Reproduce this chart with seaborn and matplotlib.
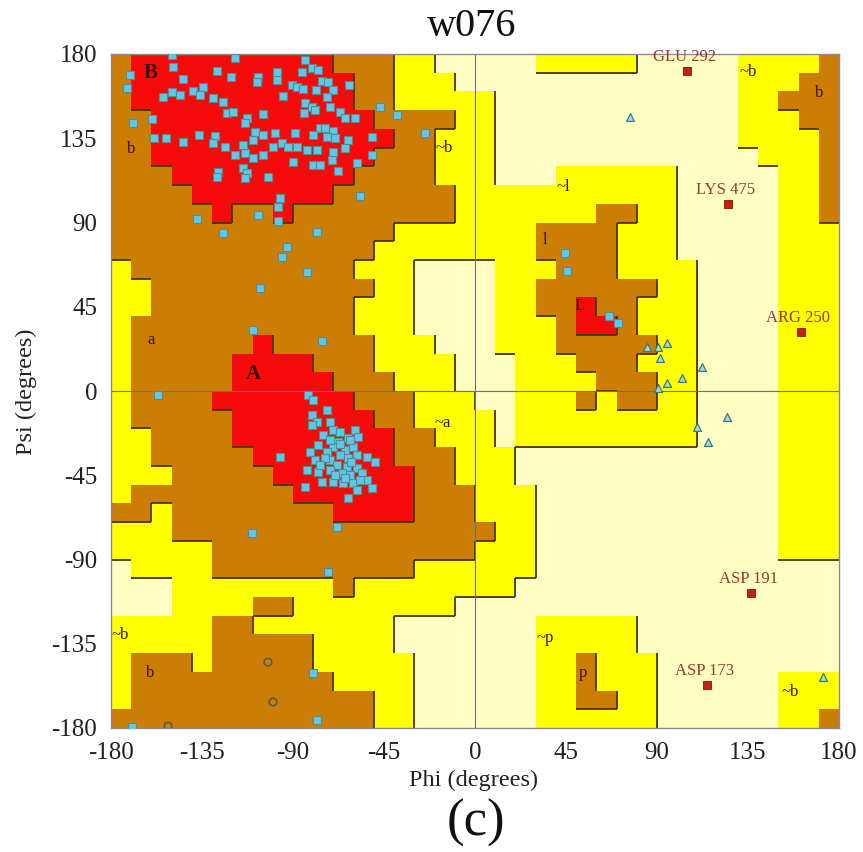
import numpy as np
import matplotlib
matplotlib.use("Agg")
from matplotlib import pyplot as plt
from matplotlib.colors import ListedColormap
from matplotlib.collections import LineCollection
import seaborn as sns

# region map in 10 degree cells, first row is psi 170..180, first column phi -180..-170
# '.' disallowed, 'y' generously allowed, 'b' additional allowed, 'r' most favoured
region_rows = [
    "brrrrrrrrrrbbbyy.....yyyyy.....yyyyb",
    "brrrrrrrrrrrbbyyy..............yyybb",
    "brrrrrrrrrrrbbyyyyy............yybbb",
    "bbrrrrrrrrrrrbbbbyy............yyybb",
    "bbrrrrrrrrrrrrbbyyy............yyyyb",
    "bbrrrrrrrrrrrbbbyyy.............yyyb",
    "bbbrrrrrrrrrbbbbyyy...yyyyyy.....yyb",
    "bbbbrrrrrrrbbbbbbyyyyyyyyyyy.....yyb",
    "bbbbbrbbrbbbbbbbbyyyyyyybbyy.....yyb",
    "bbbbbbbbbbbbbbyyyyyyybbbbyyy.....yyy",
    "bbbbbbbbbbbbbyyyyyyyybbbbyyy.....yyy",
    "ybbbbbbbbbbbyyy....yyybbbyyyy....yyy",
    "yybbbbbbbbbbbyy....yybbbbbbyy....yyy",
    "yybbbbbbbbbbyyy....yybbrbbyyy....yyy",
    "ybbbbbbbbbbbyyy....yyybrrbyyy....yyy",
    "ybbbbbbrbbbbbyyy...yyybbbbbyy....yyy",
    "ybbbbbrrrrbbbyyyy...yyybbbyyy....yyy",
    "ybbbbbrrrrrbbbyyy...yyyybbbyy....yyy",
    "ybbbbrrrrrrrbbbyyy..yyybybbyy....yyy",
    "ybbbbbrrrrrrrbbyyyy.yyyyyyyyy....yyy",
    "yybbbbrrrrrrrrbbyyy.yyyyyyyyy....yyy",
    "yybbbbbrrrrrrrbbbyyy.............yyy",
    "yyybbbbbrrrrrrrbbyyy.............yyy",
    "ybbbbbbbbrrrrrrbbbyyy............yyy",
    "bbybbbbbbbbrrrrbbbyyy............yyy",
    "yyybbbbbbbbbbbbbbbbyy............yyy",
    "yyyyybbbbbbbbbbbbbyyy............yyy",
    ".yyyybbbbbbbbbbyyyyyy...............",
    "...yyyyyyyybyyyyyyyy................",
    "...yyyybbyyyyyyyy...................",
    "yyyyybbyyyyyyy.......yyyyy..........",
    "yyyyybbbbbyyyy.......yyyyy..........",
    "ybbbybbbbbyyyyy......yybyyy.........",
    "ybbbbbbbbbbyyyy......yybyyy......yyy",
    "ybbbbbbbbbbbbyy......yybbyy......yyy",
    "bbbbbbbbbbbbbyy......yyyyyy......yyb",
]

# residues in favoured / allowed regions (squares)
core_phi = [-149.8, -149.3, -170.6, -144.4, -127.6, -120.7, -118.7, -107.3, -107.8, -97.9,
            -97.9, -154.3, -149.8, -145.9, -139.4, -134.5, -136.0, -129.6, -124.6, -94.9,
            -90.5, -172.1, -159.7, -169.1, -158.7, -152.8, -144.4, -136.5, -128.6, -129.6,
            -123.6, -118.7, -113.7, -109.8, -104.8, -99.9, -95.4, -122.6, -119.7, -112.7,
            -113.7, -104.8, -108.8, -104.8, -98.9, -109.8, -114.7, -127.1, -127.6, -114.7,
            -112.7, -113.7, -102.4, -96.4, -97.4, -97.4, -137.5, -124.6, -107.3, -93.0,
            -95.4, -106.3,
            -84.1, -85.5, -80.6, -77.6, -75.7, -72.7, -88.0, -85.1, -78.6, -70.2,
            -62.3, -73.2, -84.1, -80.6, -79.1, -84.6, -71.7, -66.8, -64.3, -59.3,
            -47.0, -38.6, -24.7, -76.6, -74.2, -70.2, -89.0, -80.1, -73.2, -69.2,
            -62.8, -50.9, -92.5, -88.0, -83.1, -78.1, -70.2, -64.3, -50.9, -80.1,
            -76.6, -90.0, -70.7, -67.7, -58.4, -56.9, -78.1, -83.1,
            -109.8, -156.8, -75.7, -96.4, -68.2, -110.3, -72.7,
            -82.6, -80.1, -73.2, -80.6, -78.1, -71.7, -70.2, -66.8, -75.2, -59.3,
            -62.8, -67.7, -77.6, -70.2, -64.3, -60.3, -57.9, -81.6, -73.2, -66.8,
            -62.8, -58.4, -53.4, -49.5, -79.1, -71.7, -68.2, -63.3, -58.4, -83.1,
            -77.6, -71.7, -65.8, -61.8, -55.9, -53.4, -75.7, -70.2, -65.3, -60.3,
            -84.1, -58.4, -50.9, -62.8, -80.6, -66.8, -74.2, -61.3, -64.3, -56.9,
            -69.2, -76.6, -61.8, -71.7,
            -80.1, -78.1, -169.6,
            44.5, 45.5, 66.3, 70.7]
core_psi = [179.5, 173.1, 168.8, 166.6, 170.9, 167.7, 177.9, 167.7, 165.0, 170.4,
            166.1, 157.0, 159.7, 158.1, 160.2, 162.4, 158.1, 156.5, 154.4, 157.6,
            163.4, 161.8, 145.3, 143.1, 135.1, 135.1, 133.0, 136.7, 136.2, 132.5,
            130.3, 126.1, 127.1, 124.5, 126.1, 130.3, 132.5, 148.5, 149.0, 145.8,
            143.1, 148.0, 138.3, 136.7, 137.8, 134.1, 131.4, 117.0, 114.3, 119.1,
            116.4, 113.8, 114.3, 103.1, 98.3, 90.8, 91.9, 84.4, 94.0, 76.9,
            71.6, 55.0,
            176.8, 170.4, 172.5, 171.5, 165.6, 165.0, 162.4, 161.3, 160.8, 160.8,
            163.4, 157.0, 153.8, 151.7, 150.1, 148.5, 151.7, 149.0, 145.8, 145.8,
            151.7, 147.4, 137.8, 140.5, 140.5, 138.9, 137.8, 136.7, 135.7, 135.1,
            134.1, 135.7, 130.3, 130.3, 128.7, 128.7, 127.7, 129.8, 126.1, 120.7,
            120.7, 122.3, 123.4, 117.5, 121.8, 104.2, 84.9, 63.6,
            32.6, -2.1, 26.7, -35.2, -72.6, -75.8, -96.7,
            -2.1, -4.8, -10.1, -12.8, -16.6, -16.6, -20.8, -21.9, -23.5, -20.8,
            -25.1, -27.2, -28.8, -29.9, -31.5, -29.9, -24.6, -32.6, -32.6, -34.2,
            -35.8, -34.2, -35.2, -37.9, -36.8, -36.8, -39.5, -40.6, -41.1, -42.2,
            -43.3, -42.2, -43.8, -44.9, -43.8, -47.5, -48.6, -48.6, -49.1, -49.1,
            -51.3, -52.9, -51.8, -57.1, -18.2, -28.3, -35.8, -37.9, -46.5, -47.5,
            -44.9, -39.5, -26.2, -26.2,
            -150.6, -175.7, -179.5,
            73.7, 64.1, 40.1, 36.3]

# residues drawn as open rings
ring_phi = [-102.4, -99.9, -151.8]
ring_psi = [-144.8, -166.1, -179.0]

# glycines (triangles)
gly_phi = [76.6, 85.1, 90.5, 94.9, 91.5, 112.3, 102.4, 94.9, 90.5, 124.6, 109.8, 115.2, 172.1]
gly_psi = [146.4, 23.3, 23.5, 25.6, 17.6, 12.8, 6.9, 4.3, 1.6, -13.9, -19.2, -27.2, -152.8]

# labelled outliers
outlier_names = ["GLU 292", "LYS 475", "ARG 250", "ASP 191", "ASP 173"]
outlier_phi = [104.8, 125.1, 161.2, 136.5, 114.7]
outlier_psi = [170.9, 99.9, 31.5, -107.9, -157.0]

# region letters
region_names = ["B", "b", "A", "a", "~b", "~l", "l", "L", "~b", "b", "~a", "~b", "b", "~p", "p", "~b"]
region_phi = [-160.2, -170.1, -109.8, -160.2, -15.3, 43.5, 34.6, 51.9, 135.0, 170.1,
              -15.8, -175.5, -160.7, 34.6, 53.4, 155.8]
region_psi = [169.9, 129.3, 9.1, 27.2, 129.8, 109.0, 80.7, 45.4, 170.4, 159.2,
              -17.1, -130.3, -150.6, -131.9, -150.6, -160.8]

ticks = [-180, -135, -90, -45, 0, 45, 90, 135, 180]

for row in region_rows:
    if len(row) != 36:
        raise ValueError("bad row %r (%d)" % (row, len(row)))

sns.set_theme(style="white")
plt.rcParams['font.family'] = ['Liberation Serif', 'DejaVu Serif']

levels = np.array([[".ybr".index(ch) for ch in row] for row in region_rows])
phi_edges = np.arange(-180, 181, 10)
psi_edges = np.arange(180, -181, -10)

fig = plt.figure(figsize=(8.63, 8.52), dpi=100)
ax = fig.add_axes([111 / 863, 124 / 852, 728 / 863, 674 / 852])

cmap = ListedColormap(["#FFFFC4", "#FFFF00", "#CC7E04", "#F80A0A"])
ax.pcolormesh(phi_edges, psi_edges, levels, cmap=cmap, vmin=-0.5, vmax=3.5, zorder=0)

# dark edges on the low side (bottom / right) of each higher region
segs = []
for r in range(36):
    for c in range(36):
        x0 = -180 + 10 * c
        y0 = 180 - 10 * r
        if r < 35 and levels[r, c] > levels[r + 1, c]:
            segs.append([(x0, y0 - 10), (x0 + 10, y0 - 10)])
        if c < 35 and levels[r, c] > levels[r, c + 1]:
            segs.append([(x0 + 10, y0), (x0 + 10, y0 - 10)])
ax.add_collection(LineCollection(segs, colors="#4a3300", linewidths=1.3, zorder=1))

ax.axhline(0, color="#707070", lw=0.8, zorder=1.5)
ax.axvline(0, color="#707070", lw=0.8, zorder=1.5)

for name, x, y in zip(region_names, region_phi, region_psi):
    big = name in ("A", "B")
    ax.text(x, y, name, ha="center", va="center", fontsize=15 if big else 12,
            fontweight="bold" if big else "normal", color="#3a1005", zorder=2)

sns.scatterplot(x=core_phi, y=core_psi, marker="s", s=34, color="#5fc8e8",
                edgecolor="#5c8a8a", linewidth=0.8, ax=ax, zorder=4, legend=False)
sns.scatterplot(x=ring_phi, y=ring_psi, marker="o", s=30, facecolor="none",
                edgecolor="#5a5a50", linewidth=1.2, ax=ax, zorder=4, legend=False)
sns.scatterplot(x=gly_phi, y=gly_psi, marker="^", s=32, color="#a8dcd6",
                edgecolor="#3a7a80", linewidth=0.9, ax=ax, zorder=4, legend=False)
sns.scatterplot(x=outlier_phi, y=outlier_psi, marker="s", s=36, color="#c8200c",
                edgecolor="#8a1000", linewidth=0.6, ax=ax, zorder=4, legend=False)

for name, x, y in zip(outlier_names, outlier_phi, outlier_psi):
    ax.annotate(name, (x, y), xytext=(-2, 4), textcoords="offset points",
                ha="center", va="bottom", fontsize=12, color="#a0352a", zorder=5)

ax.set_xlim(-180, 180)
ax.set_ylim(-180, 180)
ax.set_xticks(ticks)
ax.set_yticks(ticks)
ax.set_xticklabels([str(t) for t in ticks])
ax.set_yticklabels([str(t) for t in ticks])
ax.tick_params(axis="both", direction="out", length=6, width=1, color="#808080",
               labelsize=18, pad=4, labelcolor="#222222")
for sp in ax.spines.values():
    sp.set_color("#8c8c8c")
    sp.set_linewidth(1.0)
ax.set_xlabel("")
ax.set_ylabel("")

fig.text(472 / 863, 1 - 27 / 852, "w076", ha="center", va="center", fontsize=29, color="#111111")
fig.text(474 / 863, 1 - 780 / 852, "Phi (degrees)", ha="center", va="center", fontsize=17.5,
         color="#222222")
fig.text(26 / 863, 1 - 392 / 852, "Psi (degrees)", ha="center", va="center", rotation=90,
         fontsize=17.5, color="#222222")
fig.text(476 / 863, 1 - 823 / 852, "(c)", ha="center", va="center", fontsize=38, color="#111111")

fig.savefig("out.png", dpi=100)
